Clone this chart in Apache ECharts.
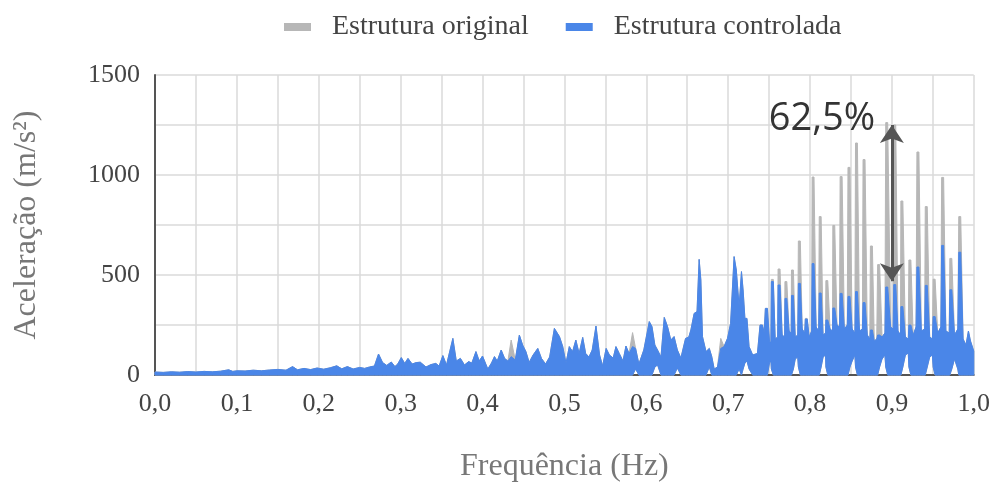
<!DOCTYPE html>
<html>
<head>
<meta charset="utf-8">
<script src="https://cdn.jsdelivr.net/npm/echarts@6/dist/echarts.min.js"></script>
<style>
  html, body { margin: 0; padding: 0; background: #ffffff; }
  #chart { width: 993px; height: 491px; }
</style>
</head>
<body>
<div id="chart"></div>
<script>
// Frequency samples (Hz) of the acceleration spectrum
const freqHz = [
  0, 0.01, 0.02, 0.03, 0.04, 0.05, 0.06, 0.07, 0.08, 0.09,
  0.095, 0.1, 0.11, 0.12, 0.13, 0.14, 0.15, 0.16, 0.168, 0.174,
  0.182, 0.19, 0.198, 0.206, 0.214, 0.222, 0.228, 0.235, 0.242, 0.25,
  0.256, 0.262, 0.268, 0.273, 0.278, 0.283, 0.2886, 0.293, 0.2965, 0.3008,
  0.305, 0.309, 0.314, 0.319, 0.324, 0.331, 0.337, 0.343, 0.347, 0.3516,
  0.356, 0.3638, 0.368, 0.373, 0.378, 0.383, 0.387, 0.392, 0.396, 0.4,
  0.4065, 0.411, 0.4146, 0.418, 0.4228, 0.427, 0.431, 0.435, 0.44, 0.445,
  0.449, 0.453, 0.457, 0.4618, 0.4675, 0.472, 0.477, 0.482, 0.4878, 0.494,
  0.498, 0.502, 0.506, 0.51, 0.514, 0.518, 0.5224, 0.526, 0.53, 0.534,
  0.5386, 0.543, 0.5467, 0.551, 0.555, 0.5596, 0.563, 0.567, 0.5716, 0.5752,
  0.579, 0.5833, 0.587, 0.591, 0.597, 0.6037, 0.607, 0.6105, 0.6138, 0.618,
  0.622, 0.626, 0.63, 0.634, 0.638, 0.6423, 0.648, 0.652, 0.6545, 0.6585,
  0.662, 0.6646, 0.6667, 0.6687, 0.673, 0.677, 0.68, 0.683, 0.687, 0.691,
  0.695, 0.6992, 0.703, 0.7073, 0.71, 0.7134, 0.7163, 0.7183, 0.7205, 0.723,
  0.7256, 0.73, 0.7358, 0.739, 0.742, 0.744, 0.7455, 0.748,
  0.7505, 0.7522, 0.7528, 0.7552, 0.7575, 0.7605, 0.761, 0.7634, 0.766, 0.769,
  0.7694, 0.7717, 0.7745, 0.777, 0.7774, 0.7797, 0.782, 0.785, 0.7858, 0.7882,
  0.7905, 0.7935, 0.7943, 0.7966, 0.799, 0.802, 0.8026, 0.8049, 0.8075, 0.8105,
  0.8113, 0.8136, 0.816, 0.819, 0.8194, 0.8217, 0.8245, 0.8275, 0.8279, 0.8302,
  0.833, 0.836, 0.8368, 0.8392, 0.842, 0.8455, 0.8464, 0.8488, 0.8515, 0.8548,
  0.8556, 0.8579, 0.8605, 0.864, 0.8648, 0.8672, 0.87, 0.873, 0.8738, 0.8762,
  0.8785, 0.8815, 0.8826, 0.885, 0.888, 0.8915, 0.8925, 0.8949, 0.8985, 0.9015,
  0.9023, 0.9047, 0.9075, 0.9105, 0.911, 0.9134, 0.9165, 0.92, 0.9208, 0.9232,
  0.926, 0.9295, 0.9306, 0.933, 0.936, 0.94, 0.9408, 0.9432, 0.9462, 0.9495,
  0.9504, 0.9528, 0.956, 0.9598, 0.9608, 0.9632, 0.966, 0.97, 0.9708, 0.9732,
  0.9765, 0.9805, 0.9817, 0.9841, 0.987, 0.9905, 0.9935, 0.996, 1.0
];

// Upper envelope, original structure (m/s²)
const originalUpper = [
  15, 13, 16, 14, 17, 15, 18, 16, 19, 26,
  18, 21, 20, 24, 21, 25, 28, 24, 42, 26,
  33, 27, 35, 29, 36, 46, 31, 42, 30, 38,
  33, 40, 45, 105, 62, 48, 65, 42, 55, 87,
  58, 83, 55, 62, 64, 40, 52, 58, 45, 97,
  50, 183, 70, 83, 50, 67, 60, 117, 70, 95,
  30, 60, 92, 70, 125, 83, 70, 175, 75, 200,
  150, 117, 63, 100, 133, 83, 55, 90, 233, 192,
  142, 60, 142, 117, 175, 108, 188, 108, 90, 125,
  245, 100, 45, 133, 100, 85, 142, 108, 70, 145,
  108, 212, 133, 55, 125, 267, 242, 150, 125, 90,
  288, 242, 175, 192, 125, 85, 183, 190, 225, 308,
  317, 578, 475, 192, 117, 133, 92, 30, 40, 183,
  142, 183, 258, 592, 525, 342, 517, 425, 283, 283,
  142, 100, 108, 250, 250, 210, 333, 333,
  170, 160, 478, 478, 180, 190, 530, 530, 200, 190,
  467, 467, 220, 210, 525, 525, 190, 200, 670, 670,
  230, 210, 283, 283, 190, 220, 990, 990, 240, 220,
  792, 792, 200, 210, 472, 472, 230, 220, 748, 748,
  250, 240, 992, 992, 230, 250, 1038, 1038, 230, 210,
  1160, 1160, 220, 230, 1077, 1077, 200, 180, 645, 645,
  170, 180, 552, 552, 190, 210, 1262, 1262, 240, 230,
  1250, 1250, 220, 200, 870, 870, 190, 180, 575, 575,
  200, 240, 1115, 1115, 220, 230, 842, 842, 190, 180,
  479, 479, 210, 240, 988, 988, 220, 210, 583, 583,
  200, 230, 792, 792, 180, 150, 220, 170, 120
];

// Upper envelope, controlled structure (m/s²)
const controlledUpper = [
  15, 13, 16, 14, 17, 15, 18, 16, 19, 26,
  18, 21, 20, 24, 21, 25, 28, 24, 42, 26,
  33, 27, 35, 29, 36, 46, 31, 42, 30, 38,
  33, 40, 45, 105, 62, 48, 65, 42, 55, 87,
  58, 83, 55, 62, 64, 40, 52, 58, 45, 97,
  50, 183, 70, 83, 50, 67, 60, 117, 70, 95,
  30, 60, 92, 70, 125, 83, 70, 92, 75, 200,
  150, 117, 63, 100, 133, 83, 55, 90, 233, 192,
  142, 60, 142, 117, 175, 108, 188, 108, 90, 125,
  245, 100, 45, 133, 100, 85, 142, 108, 70, 145,
  108, 142, 133, 55, 125, 267, 242, 150, 125, 90,
  288, 242, 175, 192, 125, 85, 183, 190, 225, 308,
  317, 578, 475, 192, 117, 133, 92, 30, 40, 133,
  142, 183, 258, 592, 525, 342, 517, 425, 283, 283,
  142, 100, 108, 250, 250, 210, 333, 333,
  170, 160, 467, 467, 180, 190, 450, 450, 200, 190,
  383, 383, 220, 210, 398, 398, 190, 200, 458, 458,
  230, 210, 280, 280, 190, 220, 557, 557, 240, 220,
  410, 410, 200, 210, 275, 275, 230, 220, 335, 335,
  250, 240, 408, 408, 230, 250, 393, 393, 230, 210,
  417, 417, 220, 230, 362, 362, 200, 180, 225, 225,
  170, 180, 200, 200, 190, 210, 440, 440, 240, 230,
  452, 452, 220, 200, 342, 342, 190, 180, 250, 250,
  200, 240, 540, 540, 220, 230, 448, 448, 190, 180,
  292, 292, 210, 240, 648, 648, 220, 210, 426, 426,
  200, 230, 614, 614, 180, 150, 220, 170, 120
];

// Lower envelope shared by both traces (m/s²)
const envelopeFloor = [
  0, 0, 0, 0, 0, 0, 0, 0, 0, 0,
  0, 0, 0, 0, 0, 0, 0, 0, 0, 0,
  0, 0, 0, 0, 0, 0, 0, 0, 0, 0,
  0, 0, 0, 0, 0, 0, 0, 0, 0, 0,
  0, 0, 0, 0, 0, 0, 0, 0, 0, 0,
  0, 0, 0, 0, 0, 0, 0, 0, 0, 0,
  0, 0, 0, 0, 0, 0, 0, 0, 0, 0,
  0, 0, 0, 0, 0, 0, 0, 0, 0, 0,
  0, 0, 0, 0, 0, 0, 0, 0, 0, 0,
  0, 0, 0, 0, 0, 0, 0, 0, 0, 0,
  0, 0, 30, 0, 0, 0, 0, 40, 50, 0,
  0, 0, 0, 0, 35, 0, 0, 0, 0, 0,
  0, 0, 0, 0, 0, 40, 0, 0, 0, 0,
  0, 0, 0, 0, 0, 30, 0, 30, 60, 70,
  30, 0, 0, 0, 0, 0, 0, 0,
  60, 70, 30, 0, 0, 0, 0, 0, 0, 0,
  0, 0, 0, 0, 0, 30, 80, 90, 40, 0,
  0, 0, 0, 0, 0, 0, 0, 0, 0, 0,
  0, 40, 90, 100, 40, 0, 0, 0, 0, 0,
  0, 0, 0, 0, 0, 0, 0, 40, 70, 100,
  40, 0, 0, 0, 0, 0, 0, 0, 0, 0,
  0, 0, 0, 40, 80, 100, 40, 0, 0, 0,
  0, 0, 0, 0, 0, 40, 100, 110, 40, 0,
  0, 0, 0, 0, 0, 0, 0, 40, 90, 100,
  40, 0, 0, 0, 0, 0, 0, 0, 0, 30,
  80, 30, 0, 0, 0, 0, 0, 0, 0
];

// Axis tick labels
const xTickLabels = ['0,0', '0,1', '0,2', '0,3', '0,4', '0,5', '0,6', '0,7', '0,8', '0,9', '1,0'];
const yTickLabels = ['0', '500', '1000', '1500'];

// Reduction marker at the dominant peak
const markerFreq = 0.9;
const markerTop = 1250;
const markerBottom = 469;
const markerText = '62,5%';
const markerTextFreq = 0.8146;
const markerTextValue = 1280;

const GRAY = '#b7b7b7';
const BLUE = '#4a86e8';
const SERIF = "'Liberation Serif', 'Times New Roman', serif";

// Filled band between the lower envelope and a trace's upper envelope
function envelopeSeries(name, upper, color) {
  return {
    type: 'custom',
    name: name,
    coordinateSystem: 'cartesian2d',
    data: [[freqHz[0], upper[0]]],
    encode: { x: 0, y: 1 },
    itemStyle: { color: color },
    silent: true,
    renderItem: function (params, api) {
      const pts = [];
      for (let i = 0; i < freqHz.length; i++) {
        pts.push(api.coord([freqHz[i], upper[i]]));
      }
      for (let i = freqHz.length - 1; i >= 0; i--) {
        pts.push(api.coord([freqHz[i], envelopeFloor[i]]));
      }
      return {
        type: 'polygon',
        shape: { points: pts },
        style: { fill: color, stroke: color, lineWidth: 1, lineJoin: 'round' }
      };
    }
  };
}

const chart = echarts.init(document.getElementById('chart'), null, { renderer: 'canvas' });

chart.setOption({
  animation: false,
  backgroundColor: '#ffffff',
  grid: { left: 155, right: 18, top: 75, bottom: 116, containLabel: false },
  legend: {
    data: ['Estrutura original', 'Estrutura controlada'],
    left: 279,
    top: 8,
    icon: 'rect',
    itemWidth: 27,
    itemHeight: 8,
    itemGap: 37,
    selectedMode: false,
    textStyle: { fontFamily: SERIF, fontSize: 28, color: '#444', padding: [0, 0, 0, 16] }
  },
  xAxis: {
    type: 'value',
    min: 0,
    max: 1,
    interval: 0.05,
    name: 'Frequência (Hz)',
    nameLocation: 'middle',
    nameGap: 76,
    nameTextStyle: { fontFamily: SERIF, fontSize: 32, color: '#777' },
    axisLine: { show: true, onZero: false, lineStyle: { color: '#555', width: 2 } },
    axisTick: { show: false },
    axisLabel: {
      margin: 16,
      fontFamily: SERIF,
      fontSize: 26,
      color: '#444',
      formatter: function (v) {
        const k = Math.round(v * 20);
        return k % 2 === 0 ? xTickLabels[k / 2] : '';
      }
    },
    splitLine: { show: true, lineStyle: { color: '#dadada', width: 1.5 } }
  },
  yAxis: {
    type: 'value',
    min: 0,
    max: 1500,
    interval: 250,
    name: 'Aceleração (m/s²)',
    nameLocation: 'middle',
    nameGap: 112,
    nameRotate: 90,
    nameTextStyle: { fontFamily: SERIF, fontSize: 32, color: '#777' },
    axisLine: { show: true, lineStyle: { color: '#555', width: 2 } },
    axisTick: { show: false },
    axisLabel: {
      margin: 15,
      fontFamily: SERIF,
      fontSize: 26,
      color: '#444',
      formatter: function (v) {
        return v % 500 === 0 ? yTickLabels[v / 500] : '';
      }
    },
    splitLine: { show: true, lineStyle: { color: '#dadada', width: 1.5 } }
  },
  series: [
    envelopeSeries('Estrutura original', originalUpper, GRAY),
    envelopeSeries('Estrutura controlada', controlledUpper, BLUE),
    {
      type: 'line',
      name: 'reduction',
      data: [],
      silent: true,
      z: 5,
      markLine: {
        silent: true,
        animation: false,
        symbol: ['arrow', 'arrow'],
        symbolSize: 18,
        lineStyle: { color: '#555', width: 3, type: 'solid', opacity: 1 },
        itemStyle: { color: '#555' },
        label: { show: false },
        emphasis: { disabled: true },
        data: [[{ coord: [markerFreq, markerTop] }, { coord: [markerFreq, markerBottom] }]]
      },
      markPoint: {
        silent: true,
        animation: false,
        symbol: 'rect',
        symbolSize: 1,
        itemStyle: { color: 'rgba(0,0,0,0)' },
        label: {
          show: true,
          position: 'inside',
          formatter: markerText,
          fontFamily: "'Open Sans', sans-serif",
          fontSize: 38,
          color: '#333'
        },
        data: [{ coord: [markerTextFreq, markerTextValue] }]
      }
    }
  ]
});
</script>
</body>
</html>
